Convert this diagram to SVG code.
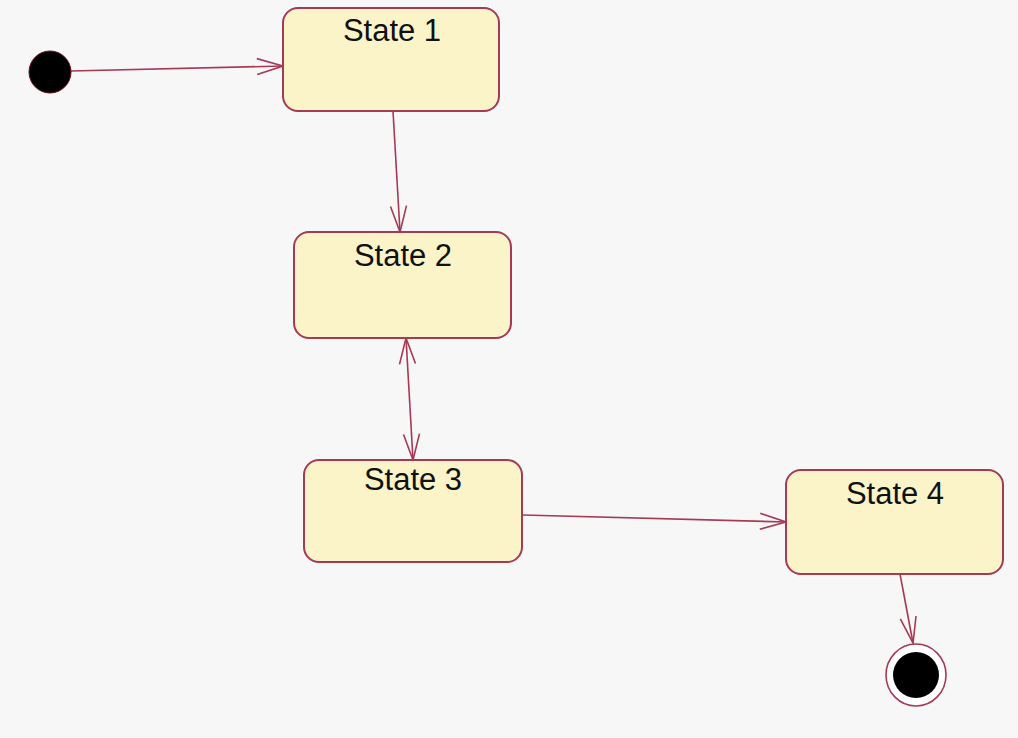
<svg xmlns="http://www.w3.org/2000/svg" width="1018" height="738" viewBox="0 0 1018 738">
<style>
.state{fill:#faf4c8;stroke:#a43a55;stroke-width:2}
.lbl{font-family:"Liberation Sans",Arial,sans-serif;font-size:31px;fill:#111;text-anchor:middle}
.conn{stroke:#a43a55;stroke-width:1.6;fill:none}
</style>
<defs>
<marker id="open" viewBox="-28 -10 30 20" refX="0" refY="0" markerWidth="30" markerHeight="20" markerUnits="userSpaceOnUse" orient="auto-start-reverse">
<path d="M-26,-8 L0,0 L-26,8" fill="none" stroke="#a43a55" stroke-width="1.6"/>
</marker>
</defs>
<rect width="1018" height="738" fill="#f7f7f7"/>
<g id="connectors">
<line class="conn" x1="71" y1="71" x2="283" y2="66" marker-end="url(#open)"/>
<line class="conn" x1="393" y1="111" x2="400" y2="232" marker-end="url(#open)"/>
<line class="conn" x1="406" y1="338" x2="413" y2="460" marker-start="url(#open)" marker-end="url(#open)"/>
<line class="conn" x1="523" y1="515" x2="786" y2="522" marker-end="url(#open)"/>
<line class="conn" x1="900" y1="574" x2="913" y2="643" marker-end="url(#open)"/>
</g>
<g id="initial">
<circle cx="50" cy="72" r="21" fill="#000" stroke="#6a1020" stroke-width="1"/>
</g>
<g id="state1">
<rect class="state" x="283" y="8" width="216" height="103" rx="15"/>
<text class="lbl" x="392" y="41">State 1</text>
</g>
<g id="state2">
<rect class="state" x="294" y="232" width="217" height="106" rx="15"/>
<text class="lbl" x="403" y="266">State 2</text>
</g>
<g id="state3">
<rect class="state" x="304" y="460" width="218" height="102" rx="15"/>
<text class="lbl" x="413" y="490">State 3</text>
</g>
<g id="state4">
<rect class="state" x="786" y="470" width="217" height="104" rx="15"/>
<text class="lbl" x="895" y="504">State 4</text>
</g>
<g id="final">
<ellipse cx="916" cy="675" rx="30" ry="31" fill="#fff" stroke="#a43a55" stroke-width="1.6"/>
<circle cx="916" cy="675" r="23" fill="#000"/>
</g>
</svg>
